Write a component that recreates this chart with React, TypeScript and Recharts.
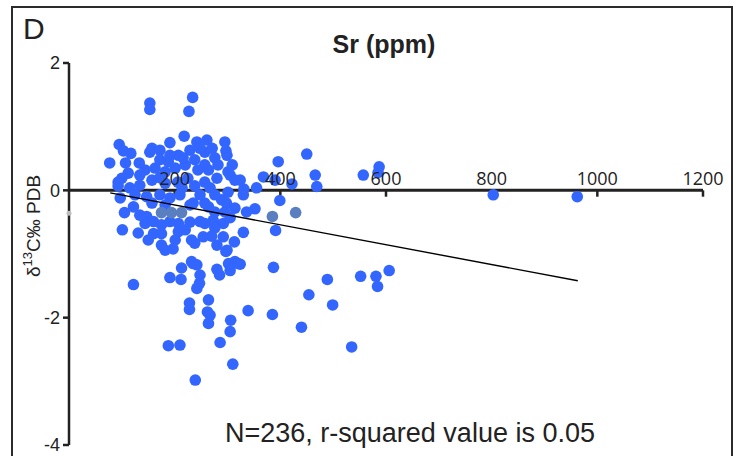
import React from 'react'
import {
  ScatterChart,
  Scatter,
  XAxis,
  YAxis,
  ReferenceLine,
  ReferenceDot,
} from 'recharts'

// Sr (ppm) vs d13C, blue samples
const blueSr = [
  153, 153, 234, 227, 218, 95, 103, 117, 77, 107, 133, 157, 153, 172, 191, 207, 188, 242, 261, 295,
  297, 299, 301, 305, 257, 257, 264, 280, 100, 112, 331, 355, 368, 396, 450, 466, 469, 422, 390, 557,
  587, 585, 803, 962, 399, 352, 391, 387, 489, 552, 581, 584, 606, 499, 535, 454, 122, 191, 213, 212,
  235, 242, 247, 242, 228, 228, 264, 262, 267, 264, 306, 305, 286, 188, 210, 310, 239, 339, 385, 440,
  280, 285, 302, 314, 324, 305, 297, 182, 197, 330, 289, 298, 336, 330, 313, 270, 292, 280, 299, 320,
  257, 273, 292, 264, 295, 122, 105, 101, 131, 147, 144, 160, 150, 175, 201, 160, 175, 207, 220, 232,
  238, 254, 248, 257, 235, 157, 147, 232, 248, 175, 191, 207, 144, 163, 182, 201, 220, 238, 229, 248,
  271, 276, 244, 225, 206, 182, 157, 134, 115, 93, 257, 282, 314, 267, 238, 214, 172, 191, 216, 97,
  125, 172, 191, 210, 276, 301, 134, 229, 276, 305, 314, 182, 276, 93, 309, 324, 248, 229, 134, 172,
]
const blueD13C = [
  1.37, 1.27, 1.46, 1.24, 0.85, 0.72, 0.62, 0.58, 0.43, 0.43, 0.43, 0.66, 0.6, 0.63, 0.75, 0.55, 0.45, 0.76, 0.79, 0.76,
  0.62, 0.55, 0.29, 0.24, 0.6, 0.4, 0.32, 0.19, 0.19, 0.27, 0.02, 0.04, 0.21, 0.45, 0.57, 0.24, 0.06, 0.1, 0.16, 0.24,
  0.37, 0.28, -0.07, -0.1, -0.16, -0.29, -0.63, -1.21, -1.4, -1.35, -1.35, -1.51, -1.26, -1.8, -2.46, -1.64, -1.48, -1.37, -1.22, -1.4,
  -1.15, -1.17, -1.46, -1.54, -1.77, -1.87, -1.72, -1.91, -1.96, -2.09, -2.04, -2.22, -2.39, -2.44, -2.43, -2.73, -2.98, -1.89, -1.95, -2.15,
  -1.24, -1.33, -1.15, -1.12, -1.16, -1.26, -0.96, -0.94, -0.92, -0.07, -0.15, -0.2, -0.34, -0.66, -0.81, -0.72, -0.73, -0.86, -0.94, -1.15,
  -0.52, -0.47, -0.52, -0.26, -0.34, -0.26, -0.35, -0.62, -0.67, -0.41, -0.52, -0.49, -0.78, -0.86, -0.78, -0.68, -0.68, -0.65, -0.62, -0.78,
  -0.83, -0.73, -0.49, -0.2, -0.2, -0.2, -0.1, -1.12, -1.33, -0.54, -0.49, -0.52, 0.32, 0.35, 0.29, 0.35, 0.4, 0.48, 0.63, 0.66,
  0.66, 0.51, 0.32, 0.19, 0.13, 0.11, 0.16, 0.08, 0.04, 0.07, 0.13, 0.4, 0.16, 0.04, 0.07, 0.04, 0.48, 0.55, 0.51, -0.12,
  -0.07, -0.07, -0.12, -0.07, -0.07, -0.03, -0.39, -0.5, -0.59, -0.43, -0.28, -0.23, -0.34, 0.13, 0.4, 0.16, -0.07, -0.23, 0.24, 0.2,
]

// greyish samples
const greySr = [175, 194, 213, 385, 429]
const greyD13C = [-0.35, -0.35, -0.35, -0.41, -0.35]
const faintSr = [0]
const faintD13C = [-0.36]

// regression line ends
const trendSr = [78, 963]
const trendD13C = [-0.04, -1.42]

const xTicks = [200, 400, 600, 800, 1000, 1200]
const yTicks = [-4, -2, 0, 2]

const zip = (xs: number[], ys: number[]) => xs.map((x, i) => ({ x, y: ys[i] }))
const blueData = zip(blueSr, blueD13C)
const greyData = zip(greySr, greyD13C)
const faintData = zip(faintSr, faintD13C)
const trendData = zip(trendSr, trendD13C)

const INK = '#222'

const dot = (color: string, r: number) => (p: any) => (
  <circle cx={p.cx} cy={p.cy} r={r} fill={color} />
)

function YLabel(props: any) {
  const vb = props.viewBox
  const cx = vb.x + 31
  const cy = vb.y + vb.height / 2 - 28
  return (
    <text
      x={cx}
      y={cy}
      transform={`rotate(-90 ${cx} ${cy})`}
      textAnchor="middle"
      fill={INK}
      fontSize={19}
      fontFamily="Liberation Sans, Arial, sans-serif"
    >
      δ<tspan dy={-8} fontSize={13}>13</tspan>
      <tspan dy={8}>C‰ PDB</tspan>
    </text>
  )
}

export default function App() {
  return (
    <div
      style={{
        position: 'absolute',
        left: 0,
        top: 0,
        width: 737,
        height: 456,
        overflow: 'hidden',
        background: '#fff',
        fontFamily: 'Liberation Sans, Arial, sans-serif',
        color: INK,
      }}
    >
      <div
        style={{
          position: 'absolute',
          left: 11,
          top: 6,
          width: 722,
          height: 520,
          boxSizing: 'border-box',
          border: '2.5px solid #2b2b2b',
        }}
      />
      <div style={{ position: 'absolute', left: 23, top: 12, fontSize: 30, lineHeight: '34px' }}>D</div>
      <div
        style={{
          position: 'absolute',
          left: 284,
          width: 200,
          top: 29,
          textAlign: 'center',
          fontSize: 25,
          fontWeight: 'bold',
          lineHeight: '30px',
        }}
      >
        Sr (ppm)
      </div>
      <div
        style={{
          position: 'absolute',
          left: 160,
          width: 500,
          top: 417,
          textAlign: 'center',
          fontSize: 27,
          lineHeight: '32px',
        }}
      >
        N=236, r-squared value is 0.05
      </div>
      <div style={{ position: 'absolute', left: 0, top: 0 }}>
        <ScatterChart width={737} height={456} margin={{ top: 63, right: 34, bottom: 11, left: 9 }}>
          <XAxis type="number" dataKey="x" domain={[0, 1200]} hide />
          <YAxis
            type="number"
            dataKey="y"
            domain={[-4, 2]}
            ticks={yTicks}
            interval={0}
            width={60}
            tickSize={6}
            tickMargin={3}
            axisLine={{ stroke: INK, strokeWidth: 2.5 }}
            tickLine={{ stroke: INK, strokeWidth: 2.5 }}
            tick={{ fill: INK, fontSize: 18, fontFamily: 'Liberation Sans, Arial, sans-serif' }}
            label={{ content: YLabel }}
          />
          <Scatter data={faintData} fill="#bbb" shape={dot('#bdbdbd', 2.5)} isAnimationActive={false} />
          <Scatter data={blueData} fill="#3366ff" shape={dot('#3366ff', 5.8)} isAnimationActive={false} />
          <Scatter data={greyData} fill="#5a7fc0" shape={dot('#5a7fc0', 5.8)} isAnimationActive={false} />
          <ReferenceLine y={0} stroke={INK} strokeWidth={3} />
          {xTicks.map((t) => (
            <ReferenceLine
              key={`tl-${t}`}
              segment={[
                { x: t, y: 0 },
                { x: t, y: -0.1 },
              ]}
              stroke={INK}
              strokeWidth={2.5}
            />
          ))}
          {xTicks.map((t) => (
            <ReferenceDot
              key={`lb-${t}`}
              x={t}
              y={0}
              r={0}
              fill="none"
              stroke="none"
              label={{
                value: String(t),
                position: 'top',
                offset: 5,
                fill: INK,
                fontSize: 18,
                fontFamily: 'Open Sans, sans-serif',
              }}
            />
          ))}
          <Scatter
            data={trendData}
            line={{ stroke: '#000', strokeWidth: 1.4 }}
            shape={() => <g />}
            isAnimationActive={false}
          />
        </ScatterChart>
      </div>
    </div>
  )
}
